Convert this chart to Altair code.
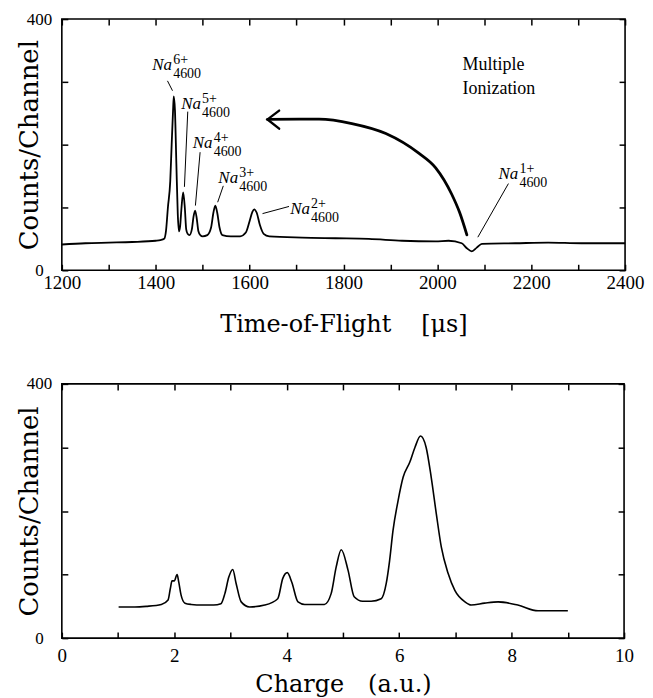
import altair as alt
import pandas as pd

# ---------------- data ----------------
tof_us = [1200, 1250, 1300, 1350, 1400, 1410, 1418, 1422, 1426, 1431, 1434, 1437,
          1438.5, 1441, 1444, 1447, 1449.5, 1452, 1455, 1458.5, 1462, 1465, 1468,
          1472, 1477, 1480.5, 1484, 1487.5, 1491, 1495, 1500, 1510, 1518, 1523,
          1527, 1531, 1536, 1542, 1560, 1580, 1592, 1600, 1606, 1610, 1615, 1622,
          1630, 1642, 1712, 1783, 1854, 1925, 1996, 2024, 2052, 2063, 2073.5, 2084,
          2095, 2166, 2236, 2307, 2400]
tof_counts = [41, 43, 44, 45, 47, 48, 50, 63, 100, 142, 200, 255,
              277, 255, 170, 90, 62, 70, 100, 124, 100, 65, 58,
              56, 65, 85, 95, 82, 62, 56, 54, 56, 68, 92,
              103, 92, 68, 56, 54, 54, 60, 78, 93, 97, 92, 72,
              58, 54, 52, 51, 50, 47, 46, 47, 43, 35, 30, 36,
              42, 43, 44, 43, 43]

charge_au = [1.01, 1.3, 1.5, 1.77, 1.89, 1.93, 1.96, 2.0, 2.05, 2.08, 2.12, 2.19,
             2.3, 2.5, 2.7, 2.83, 2.9, 2.97, 3.04, 3.1, 3.19, 3.34, 3.61, 3.84,
             3.93, 4.01, 4.09, 4.2, 4.32, 4.5, 4.67, 4.79, 4.88, 4.97, 5.09, 5.2,
             5.35, 5.5, 5.68, 5.77, 5.83, 5.89, 5.98, 6.07, 6.19, 6.28, 6.38, 6.48,
             6.57, 6.66, 6.75, 6.87, 6.99, 7.17, 7.28, 7.52, 7.76, 8.11, 8.47, 9.0]
charge_counts = [49, 49, 50, 53, 60, 78, 90, 90, 100, 88, 68, 55,
                 53, 52, 52, 54, 70, 96, 108, 86, 57, 49, 52, 62,
                 94, 103, 88, 57, 53, 53, 53, 70, 112, 139, 107, 65,
                 58, 58, 62, 86, 122, 169, 216, 253, 277, 300, 318, 300,
                 253, 196, 143, 102, 75, 57, 52, 55, 57, 52, 43, 43]

# ion labels (anchor = left end / baseline of "Na")
ion_charge = ["6+", "5+", "4+", "3+", "2+", "1+"]
ion_mass = ["4600"] * 6
ion_t = [1392.6, 1454.2, 1478.9, 1533.5, 1686.4, 2130.3]
ion_v = [319.2, 256.7, 194.2, 139.5, 90.2, 144.8]

# leader lines from labels to peaks (start, end)
lead_t0 = [1425.1, 1468.3, 1494.6, 1544.0, 1684.0, 2151.5]
lead_v0 = [301.6, 252.6, 188.0, 134.4, 101.6, 138.0]
lead_t1 = [1435.8, 1461.2, 1484.6, 1532.0, 1627.6, 2086.3]
lead_v1 = [285.9, 132.8, 103.0, 108.3, 90.2, 52.6]

# curved arrow "Multiple Ionization"
arc_t = [1638.2, 1705.5, 1748.0, 1818.0, 1890.3, 1960.4, 1996.5, 2030.4, 2047.4, 2063.0]
arc_v = [240.2, 240.6, 240.6, 233.6, 217.7, 186.4, 163.0, 121.4, 92.2, 56.3]
head_t = [1663.0, 1638.2, 1663.0]
head_v = [254.2, 240.2, 225.5]

note_lines = ["Multiple", "Ionization"]
note_t = [2053.8, 2053.8]
note_v = [319.2, 280.2]

tof_ticks = list(range(1200, 2401, 100))
charge_ticks = list(range(0, 11))
count_ticks = [0, 100, 200, 300, 400]

assert len(tof_us) == len(tof_counts)
assert len(charge_au) == len(charge_counts)

# ---------------- styling ----------------
SERIF = "Liberation Serif"
TFONT = "DejaVu Serif"
W1, H1 = 565, 252
W2, H2 = 564, 255
TICK = 6

tof_df = pd.DataFrame({"t": tof_us, "c": tof_counts})
chg_df = pd.DataFrame({"q": charge_au, "c": charge_counts})
ion_df = pd.DataFrame({"t": ion_t, "v": ion_v, "chg": ion_charge, "m": ion_mass})
lead_df = pd.DataFrame({
    "t": lead_t0 + lead_t1,
    "v": lead_v0 + lead_v1,
    "id": list(range(6)) + list(range(6)),
})
arc_df = pd.DataFrame({"t": arc_t, "v": arc_v})
head_df = pd.DataFrame({"t": head_t, "v": head_v, "o": [0, 1, 2]})
note_df = pd.DataFrame({"t": note_t, "v": note_v, "txt": note_lines})

common_tick = dict(tickSize=TICK, offset=-TICK, tickColor="black", tickWidth=1.5,
                   domain=False, grid=False)


def x_axis_bottom(values, expr, title, pad, tpad):
    return alt.Axis(orient="bottom", values=values, labelExpr=expr, format="d",
                    labelFont=SERIF, labelFontSize=19, labelColor="black",
                    labelPadding=pad, labelFlush=False, labelOverlap=False,
                    title=title, titleFont=TFONT, titleFontSize=24,
                    titleFontWeight="normal", titleColor="black",
                    titlePadding=tpad, **common_tick)


def y_axis_left(H):
    return alt.Axis(orient="left", values=count_ticks,
                    labelExpr="datum.value == 0 || datum.value == 400 ? datum.label : ''",
                    labelFont=SERIF, labelFontSize=17, labelColor="black",
                    labelAlign="center", labelBaseline="middle", labelPadding=23,
                    labelFlush=False, labelOverlap=False,
                    title="Counts/Channel", titleFont=TFONT, titleFontSize=26,
                    titleFontWeight="normal", titleColor="black",
                    titleX=-38, titleY=H / 2, titleBaseline="middle", titleAlign="center",
                    **common_tick)


def x_axis_top(values):
    return alt.Axis(orient="top", values=values, labels=False, title=None, **common_tick)


def y_axis_right():
    return alt.Axis(orient="right", values=count_ticks, labels=False, title=None, **common_tick)


xs1 = alt.Scale(domain=[1200, 2400], nice=False, zero=False)
ys = alt.Scale(domain=[0, 400], nice=False)
xs2 = alt.Scale(domain=[0, 10], nice=False)

# ---------------- top panel ----------------
trace1 = alt.Chart(tof_df).mark_line(color="black", strokeWidth=1.8, interpolate="monotone").encode(
    x=alt.X("t:Q", scale=xs1,
            axis=x_axis_bottom(tof_ticks, "datum.value % 200 == 0 ? datum.label : ''",
                               "Time-of-Flight\u2003\u2005[\u03bcs]", 3.5, 20)),
    y=alt.Y("c:Q", scale=ys, axis=y_axis_left(H1)),
)

leads = alt.Chart(lead_df).mark_line(color="black", strokeWidth=1).encode(
    x=alt.X("t:Q", scale=xs1, axis=x_axis_top(tof_ticks)),
    y=alt.Y("v:Q", scale=ys, axis=y_axis_right()),
    detail="id:N",
)

arc = alt.Chart(arc_df).mark_line(color="black", strokeWidth=2.8, interpolate="monotone",
                                  strokeCap="round").encode(
    x=alt.X("t:Q", scale=xs1, axis=None),
    y=alt.Y("v:Q", scale=ys, axis=None),
)

head = alt.Chart(head_df).mark_line(color="black", strokeWidth=2.4, strokeCap="round",
                                    strokeJoin="miter").encode(
    x=alt.X("t:Q", scale=xs1, axis=None),
    y=alt.Y("v:Q", scale=ys, axis=None),
    order="o:Q",
)

na_text = alt.Chart(ion_df).mark_text(font=SERIF, fontSize=17, fontStyle="italic",
                                      align="left", baseline="alphabetic", color="black").encode(
    x=alt.X("t:Q", scale=xs1, axis=None),
    y=alt.Y("v:Q", scale=ys, axis=None),
    text=alt.value("Na"),
)

sup_text = alt.Chart(ion_df).mark_text(font=SERIF, fontSize=14, align="left",
                                       baseline="alphabetic", dx=21, dy=-6, color="black").encode(
    x=alt.X("t:Q", scale=xs1, axis=None),
    y=alt.Y("v:Q", scale=ys, axis=None),
    text="chg:N",
)

sub_text = alt.Chart(ion_df).mark_text(font=SERIF, fontSize=14, align="left",
                                       baseline="alphabetic", dx=21, dy=8, color="black").encode(
    x=alt.X("t:Q", scale=xs1, axis=None),
    y=alt.Y("v:Q", scale=ys, axis=None),
    text="m:N",
)

note = alt.Chart(note_df).mark_text(font=SERIF, fontSize=18, align="left",
                                    baseline="alphabetic", color="black").encode(
    x=alt.X("t:Q", scale=xs1, axis=None),
    y=alt.Y("v:Q", scale=ys, axis=None),
    text="txt:N",
)

top = alt.layer(trace1, leads, arc, head, na_text, sup_text, sub_text, note).properties(
    width=W1, height=H1)

# ---------------- bottom panel ----------------
trace2 = alt.Chart(chg_df).mark_line(color="black", strokeWidth=1.6, interpolate="monotone").encode(
    x=alt.X("q:Q", scale=xs2,
            axis=x_axis_bottom(charge_ticks, "datum.value % 2 == 0 ? datum.label : ''",
                               "Charge\u2003(a.u.)", 8.5, 7)),
    y=alt.Y("c:Q", scale=ys, axis=y_axis_left(H2)),
)

frame2 = alt.Chart(chg_df).mark_line(strokeOpacity=0).encode(
    x=alt.X("q:Q", scale=xs2, axis=x_axis_top(charge_ticks)),
    y=alt.Y("c:Q", scale=ys, axis=y_axis_right()),
)

bottom = alt.layer(trace2, frame2).properties(width=W2, height=H2)

chart = alt.vconcat(top, bottom, spacing=114, bounds="flush").properties(
    padding={"left": 8, "top": 0, "right": 0, "bottom": 0},
    background="white",
).configure_view(stroke="black", strokeWidth=1.6)

chart.save("out.html", embed_options={"renderer": "svg", "actions": False})
